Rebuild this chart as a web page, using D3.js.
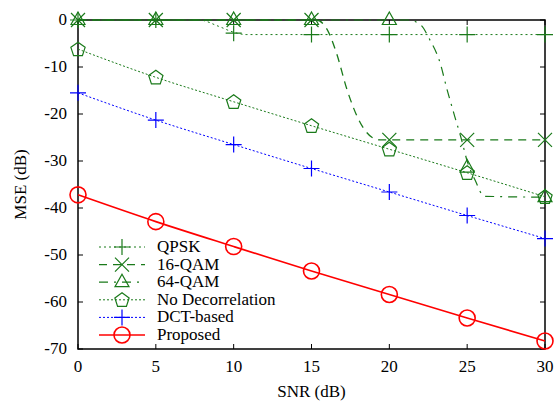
<!DOCTYPE html>
<html>
<head>
<meta charset="utf-8">
<script src="https://cdn.jsdelivr.net/npm/d3@7"></script>
<style>
  body { margin: 0; background: #fff; }
</style>
</head>
<body>
<svg id="chart" width="559" height="403"></svg>
<script>
// values
const snrTicks = [0, 5, 10, 15, 20, 25, 30]
const mseTicks = [0, -10, -20, -30, -40, -50, -60, -70]
const markerSnr = [0, 5, 10, 15, 20, 25, 30]

const qpskCurve = [[0, 0], [7.8, 0], [9, -1.3], [10, -2.6], [10.8, -3.1], [30, -3.1]]
const qpskMarks = [0, 0, -2.8, -3.1, -3.1, -3.1, -3.1]

const qam16Curve = [[0, 0], [15.3, 0], [16, -2], [16.6, -7], [17.3, -15], [18, -21], [18.9, -25], [19.4, -25.5], [30, -25.5]]
const qam16Marks = [0, 0, 0, 0, -25.5, -25.5, -25.5]

const qam64Curve = [[0, 0], [21.2, 0], [22, -1], [22.6, -4.2], [23.25, -9], [23.7, -14.7], [24.2, -20.5], [24.6, -25], [25, -30], [25.5, -34], [26.1, -37.5], [30, -37.7]]
const qam64Marks = [0, 0, 0, 0, 0, -31.4, -37.7]

const noDecorMarks = [-6.2, -12.2, -17.4, -22.5, -27.5, -32.5, -37.6]
const dctMarks = [-15.5, -21.3, -26.5, -31.6, -36.6, -41.6, -46.5]
const proposedMarks = [-37.2, -42.9, -48.2, -53.4, -58.4, -63.4, -68.3]

const seriesNames = ['QPSK', '16-QAM', '64-QAM', 'No Decorrelation', 'DCT-based', 'Proposed']

const green = '#1a7a1a'
const series = [
  { name: seriesNames[0], curve: qpskCurve, marks: qpskMarks, color: green, dash: '2,3', width: 1, marker: 'plus' },
  { name: seriesNames[1], curve: qam16Curve, marks: qam16Marks, color: green, dash: '8,6', width: 1.3, marker: 'cross' },
  { name: seriesNames[2], curve: qam64Curve, marks: qam64Marks, color: green, dash: '9,6,2,6', width: 1.2, marker: 'triangle' },
  { name: seriesNames[3], curve: markerSnr.map((s, i) => [s, noDecorMarks[i]]), marks: noDecorMarks, color: green, dash: '2,2', width: 1, marker: 'pentagon' },
  { name: seriesNames[4], curve: markerSnr.map((s, i) => [s, dctMarks[i]]), marks: dctMarks, color: '#0000ff', dash: '2,2', width: 1, marker: 'plus' },
  { name: seriesNames[5], curve: markerSnr.map((s, i) => [s, proposedMarks[i]]), marks: proposedMarks, color: '#ff0000', dash: null, width: 1.6, marker: 'circle' },
]

const fontFamily = '"Liberation Serif", "Times New Roman", serif'
const fontSize = '17px'

const svg = d3.select('#chart')
  .attr('font-family', fontFamily)
const x = d3.scaleLinear().domain([0, 30]).range([78, 545])
const y = d3.scaleLinear().domain([-70, 0]).range([349, 20])

// ticks (inward, mirrored on all sides)
const tickLen = 5
const frame = svg.append('g').attr('stroke', '#000').attr('stroke-width', 1)
snrTicks.forEach((t) => {
  frame.append('line').attr('x1', x(t)).attr('x2', x(t)).attr('y1', y(-70)).attr('y2', y(-70) - tickLen)
  frame.append('line').attr('x1', x(t)).attr('x2', x(t)).attr('y1', y(0)).attr('y2', y(0) + tickLen)
})
mseTicks.forEach((t) => {
  frame.append('line').attr('x1', x(0)).attr('x2', x(0) + tickLen).attr('y1', y(t)).attr('y2', y(t))
  frame.append('line').attr('x1', x(30)).attr('x2', x(30) - tickLen).attr('y1', y(t)).attr('y2', y(t))
})
svg.append('rect')
  .attr('x', x(0)).attr('y', y(0))
  .attr('width', x(30) - x(0)).attr('height', y(-70) - y(0))
  .attr('fill', 'none').attr('stroke', '#000').attr('stroke-width', 1.5)

// tick labels
svg.append('g').selectAll('text').data(snrTicks).join('text')
  .attr('x', (d) => x(d)).attr('y', 372)
  .attr('text-anchor', 'middle')
  .attr('font-family', fontFamily).attr('font-size', fontSize)
  .text((d) => d)
svg.append('g').selectAll('text').data(mseTicks).join('text')
  .attr('x', 67).attr('y', (d) => y(d) + 5)
  .attr('text-anchor', 'end')
  .attr('font-family', fontFamily).attr('font-size', fontSize)
  .text((d) => d)

svg.append('text').attr('x', x(15)).attr('y', 397)
  .attr('text-anchor', 'middle')
  .attr('font-family', fontFamily).attr('font-size', fontSize)
  .text('SNR (dB)')
svg.append('text').attr('transform', `translate(26,${y(-35)}) rotate(-90)`)
  .attr('text-anchor', 'middle')
  .attr('font-family', fontFamily).attr('font-size', fontSize)
  .text('MSE (dB)')

function drawMarker(g, type, cx, cy, color) {
  const m = g.append('g').attr('transform', `translate(${cx},${cy})`)
    .attr('fill', 'none').attr('stroke', color).attr('stroke-width', 1.2)
  if (type === 'plus') {
    m.append('path').attr('d', 'M-8,0H8M0,-8V8')
  } else if (type === 'cross') {
    m.append('path').attr('d', 'M-7,-7L7,7M-7,7L7,-7')
  } else if (type === 'triangle') {
    m.append('path').attr('d', 'M0,-8L7,4.5H-7Z')
  } else if (type === 'pentagon') {
    const pts = d3.range(5).map((i) => {
      const a = -Math.PI / 2 + i * 2 * Math.PI / 5
      return [7.5 * Math.cos(a), 7.5 * Math.sin(a) + 0.5]
    })
    m.append('path').attr('d', 'M' + pts.join('L') + 'Z')
  } else if (type === 'circle') {
    m.append('circle').attr('r', 8).attr('stroke-width', 1.6)
  }
}

const line = d3.line().x((d) => x(d[0])).y((d) => y(d[1])).curve(d3.curveMonotoneX)
const plot = svg.append('g')
series.forEach((s) => {
  plot.append('path')
    .attr('d', line(s.curve))
    .attr('fill', 'none')
    .attr('stroke', s.color)
    .attr('stroke-width', s.width)
    .attr('stroke-dasharray', s.dash)
  markerSnr.forEach((snr, i) => drawMarker(plot, s.marker, x(snr), y(s.marks[i]), s.color))
})

// legend
const legend = svg.append('g')
series.forEach((s, i) => {
  const ly = 247 + i * 17.6
  legend.append('line')
    .attr('x1', 99).attr('x2', 145).attr('y1', ly).attr('y2', ly)
    .attr('stroke', s.color).attr('stroke-width', s.width)
    .attr('stroke-dasharray', s.dash)
  drawMarker(legend, s.marker, 122, ly, s.color)
  legend.append('text').attr('x', 157).attr('y', ly + 5)
    .attr('font-family', fontFamily).attr('font-size', fontSize)
    .text(s.name)
})
</script>
</body>
</html>
